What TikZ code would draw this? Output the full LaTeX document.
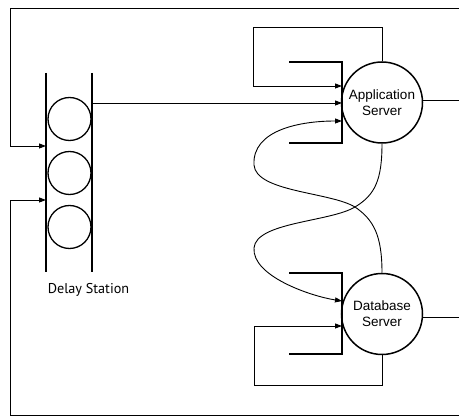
\documentclass[tikz,border=0pt]{standalone}
\usepackage{fontspec}
\setmainfont{Liberation Sans}
\newfontfamily\labelfont{PT Sans}
\usetikzlibrary{arrows.meta}
\begin{document}
\begin{tikzpicture}[x=1pt,y=-1pt,
  wire/.style={line width=0.9pt},
  flow/.style={wire,-{Triangle[length=7pt,width=5pt]}},
  server/.style={circle,draw,line width=1.5pt,minimum size=81pt,inner sep=0pt,
    align=center,font=\fontsize{13.5}{16}\selectfont},
  slot/.style={circle,draw,line width=1.3pt,minimum size=43pt,inner sep=0pt},
  rail/.style={line width=1.4pt},
  queue/.style={line width=1.6pt}]
\useasboundingbox (0,0) rectangle (459,417);

% servers
\node[server] (app) at (382,102.5) {Application\\Server};
\node[server] (db) at (382,314) {Database\\Server};

% queue brackets in front of the servers
\draw[queue] (289,62) -- (342,62) -- (342,143) -- (289,143);
\draw[queue] (289,273) -- (342,273) -- (342,354) -- (289,354);

% delay station
\node[slot] (d1) at (69.5,119) {};
\node[slot] (d2) at (69.5,173) {};
\node[slot] (d3) at (69.5,227) {};
\coordinate (lt) at (46,73);
\coordinate (lb) at (46,272);
\coordinate (rt) at (92,73);
\coordinate (rb) at (92,272);
\draw[rail] (lt) -- (lb);
\draw[rail] (rt) -- (rb);
\node[font=\labelfont\fontsize{14.2}{16}\selectfont] (dlabel) at (88.5,290) {Delay Station};

% coordinates for connector ends
\coordinate (ain1) at (342,86);
\coordinate (ain2) at (342,103);
\coordinate (ain3) at (342,121);
\coordinate (dbin1) at (342,301);
\coordinate (dbin2) at (342,326);
\coordinate (dout) at (92,103);
\coordinate (din1) at (46,146);
\coordinate (din2) at (46,200);
\coordinate (ftop) at (460,8);
\coordinate (fc1) at (10,8);
\coordinate (fbot) at (460,415);
\coordinate (fc2) at (10,415);
\coordinate (aout) at (460,100);
\coordinate (dbout) at (460,317);
\coordinate (aloopR) at (382,27);
\coordinate (aloopL) at (253,27);
\coordinate (dloopR) at (382,385);
\coordinate (dloopL) at (254,385);
\coordinate (cross) at (355,207);
\coordinate (turnA) at (254,248);
\coordinate (turnB) at (254,165);

% outer circuit
\draw[flow] (ftop) -- (fc1) |- (din1);
\draw[flow] (fbot) -- (fc2) |- (din2);
\draw[flow] (dout) -- (ain2);
\draw[wire] (app.east |- aout) -- (aout);
\draw[wire] (db.east |- dbout) -- (dbout);

% self loops
\draw[flow] (app.north) -- (aloopR) -- (aloopL) |- (ain1);
\draw[flow] (db.south) -- (dloopR) -- (dloopL) |- (dbin2);

% crossing paths between the servers
\draw[flow] (app.south) .. controls (382,180) and (375,195) .. (cross)
  .. controls (330,222) and (256,222) .. (turnA)
  .. controls (252,276) and (310,296) .. (dbin1);
\draw[flow] (db.north) .. controls (382,236) and (374,220) .. (cross)
  .. controls (330,192) and (256,192) .. (turnB)
  .. controls (252,130) and (300,121) .. (ain3);
\end{tikzpicture}
\end{document}
